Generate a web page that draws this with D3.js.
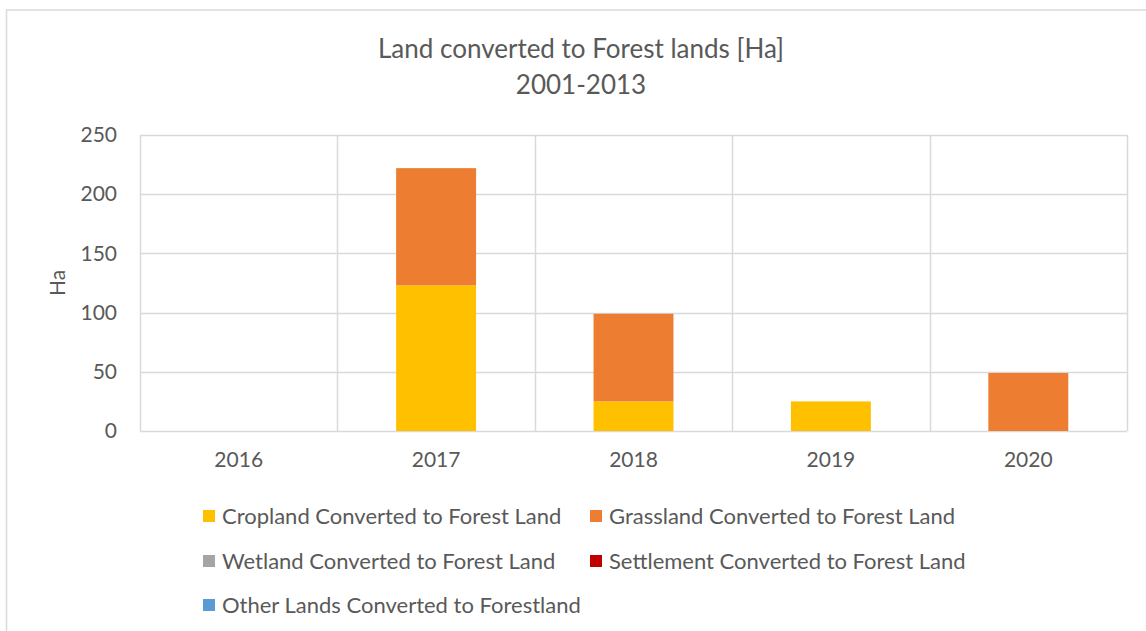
<!DOCTYPE html>
<html>
<head>
<meta charset="utf-8">
<script src="https://cdn.jsdelivr.net/npm/d3@7"></script>
<style>
  html, body { margin: 0; padding: 0; background: #fff; }
  svg { display: block; font-family: Lato, "Open Sans", sans-serif; }
</style>
</head>
<body>
<svg id="chart" width="1146" height="631"></svg>
<script>
const categories = ["2016", "2017", "2018", "2019", "2020"];
const seriesNames = [
  "Cropland Converted to Forest Land",
  "Grassland Converted to Forest Land",
  "Wetland Converted to Forest Land",
  "Settlement Converted to Forest Land",
  "Other Lands Converted to Forestland"
];
const cropland   = [0, 123, 25, 25, 0];
const grassland  = [0, 99, 74, 0, 49];
const wetland    = [0, 0, 0, 0, 0];
const settlement = [0, 0, 0, 0, 0];
const otherLands = [0, 0, 0, 0, 0];
const yTicks = [0, 50, 100, 150, 200, 250];
const titleLines = ["Land converted to Forest lands [Ha]", "2001-2013"];
const yAxisLabel = "Ha";
const colors = ["#FFC000", "#ED7D31", "#A5A5A5", "#C00000", "#5B9BD5"];

const seriesValues = [cropland, grassland, wetland, settlement, otherLands];
const table = categories.map((c, i) => {
  const row = { year: c };
  seriesNames.forEach((s, j) => row[s] = seriesValues[j][i]);
  return row;
});

const svg = d3.select("#chart");
const W = 1146, H = 631;
const plot = { left: 140, right: 1127, top: 135, bottom: 431 };
const textColor = "#595959";

// chart border
svg.append("rect").attr("x", 6.5).attr("y", 10).attr("width", W + 10).attr("height", H + 10)
  .attr("fill", "#fff").attr("stroke", "#d9d9d9").attr("stroke-width", 1.5);

const x = d3.scaleBand().domain(categories).range([plot.left, plot.right]).paddingInner(0).paddingOuter(0);
const y = d3.scaleLinear().domain([0, 250]).range([plot.bottom, plot.top]);

// horizontal gridlines
svg.append("g").selectAll("line").data(yTicks).join("line")
  .attr("x1", plot.left).attr("x2", plot.right)
  .attr("y1", d => Math.round(y(d)) + 0.5).attr("y2", d => Math.round(y(d)) + 0.5)
  .attr("stroke", "#d9d9d9").attr("stroke-width", 1.5);

// vertical gridlines at category boundaries
const bounds = categories.map(c => x(c)).concat([x(categories[categories.length - 1]) + x.bandwidth()]);
svg.append("g").selectAll("line").data(bounds).join("line")
  .attr("x1", d => Math.round(d) + 0.5).attr("x2", d => Math.round(d) + 0.5)
  .attr("y1", plot.top).attr("y2", plot.bottom)
  .attr("stroke", "#d9d9d9").attr("stroke-width", 1.5);

// stacked bars
const stack = d3.stack().keys(seriesNames);
const stacked = stack(table);
const barW = x.bandwidth() * 0.405;
svg.append("g").selectAll("g").data(stacked).join("g")
  .attr("fill", (d, i) => colors[i])
  .selectAll("rect").data(d => d.filter(p => p[1] - p[0] > 0)).join("rect")
  .attr("x", d => x(d.data.year) + (x.bandwidth() - barW) / 2)
  .attr("width", barW)
  .attr("y", d => y(d[1]))
  .attr("height", d => y(d[0]) - y(d[1]));

// y axis labels
const yAxis = d3.axisLeft(y).tickValues(yTicks).tickSize(0).tickPadding(0);
const gy = svg.append("g").attr("transform", `translate(${plot.left - 23},0)`).call(yAxis);
gy.select(".domain").remove();
gy.selectAll("text").attr("fill", textColor).style("font-size", "21px")
  .style("font-family", "Lato, sans-serif");

// x axis labels
const xAxis = d3.axisBottom(x).tickSize(0).tickPadding(0);
const gx = svg.append("g").attr("transform", `translate(0,${plot.bottom + 21})`).call(xAxis);
gx.select(".domain").remove();
gx.selectAll("text").attr("fill", textColor).style("font-size", "21px")
  .style("font-family", "Lato, sans-serif");

// y axis title
svg.append("text").attr("transform", `translate(65,283) rotate(-90)`)
  .attr("text-anchor", "middle").attr("fill", textColor).style("font-size", "21px")
  .text(yAxisLabel);

// title
svg.append("g").selectAll("text").data(titleLines).join("text")
  .attr("x", 581).attr("y", (d, i) => 58 + i * 36)
  .attr("text-anchor", "middle").attr("fill", textColor).style("font-size", "26px")
  .text(d => d);

// legend
const legendPos = [
  { x: 203, y: 516 }, { x: 590, y: 516 },
  { x: 203, y: 561 }, { x: 590, y: 561 },
  { x: 203, y: 605 }
];
const lg = svg.append("g").selectAll("g").data(seriesNames).join("g")
  .attr("transform", (d, i) => `translate(${legendPos[i].x},${legendPos[i].y})`);
lg.append("rect").attr("x", 0).attr("y", -6).attr("width", 12).attr("height", 12)
  .attr("fill", (d, i) => colors[i]);
lg.append("text").attr("x", 19).attr("y", 0).attr("dy", "0.36em")
  .attr("fill", textColor).style("font-size", "22px").text(d => d);
</script>
</body>
</html>
